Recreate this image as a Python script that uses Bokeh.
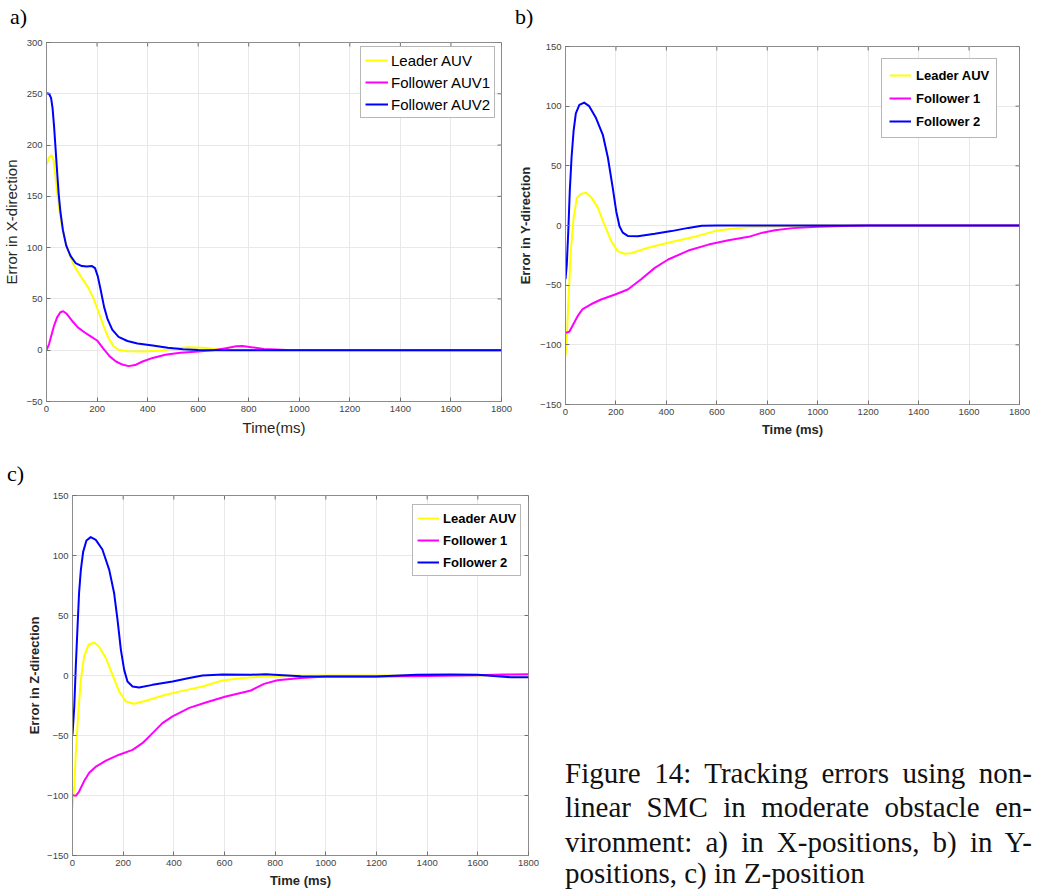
from bokeh.plotting import figure
from bokeh.layouts import row, column
from bokeh.models import Range1d, SingleIntervalTicker, Legend, LegendItem, Div
from bokeh.embed import file_html
from bokeh.resources import INLINE

# ---------------- data ----------------
# a) X-direction
a_leader_t = [0, 10, 20, 28, 36, 44, 52, 62, 75, 90, 110, 138, 165, 185, 205, 225, 245, 265, 285, 320, 380, 450, 510, 560, 620, 680, 760, 900, 1800]
a_leader_v = [181, 188, 190, 185, 168, 150, 135, 120, 106, 94, 82, 71, 61, 51, 38, 24, 12, 4, 0.5, -1, -1.2, -0.5, 1.8, 3, 2.5, 1, 0.3, 0, 0]
a_f1_t = [0, 10, 20, 30, 42, 55, 66, 80, 100, 125, 150, 175, 200, 225, 250, 275, 300, 325, 350, 380, 420, 470, 530, 600, 660, 710, 750, 775, 810, 860, 950, 1800]
a_f1_v = [0, 6, 15, 24, 32, 37, 38, 35.5, 29, 22, 17.5, 13.5, 9.5, 1.5, -6, -11, -14, -15.5, -14.5, -11, -7.5, -4.5, -2.5, -1.2, 0, 2, 3.8, 4, 3, 1.2, 0.2, 0]
a_f2_t = [0, 10, 18, 24, 30, 36, 42, 48, 55, 65, 78, 95, 115, 140, 160, 180, 192, 203, 215, 228, 242, 260, 285, 320, 360, 420, 480, 540, 600, 700, 1800]
a_f2_v = [250.5, 250, 246, 236, 218, 196, 174, 153, 135, 117, 102, 92, 85, 82, 81.5, 82, 80, 72, 58, 42, 30, 20, 13, 9, 6.5, 4.5, 2.5, 1, 0.3, 0, 0]

# b) Y-direction
b_leader_t = [0, 4, 11, 21, 32, 45, 61, 81, 101, 128, 154, 181, 207, 234, 260, 327, 407, 513, 593, 650, 720, 800, 900, 1000, 1800]
b_leader_v = [-109, -100, -66, -21.5, 6, 23, 26.5, 27.4, 24, 15, 1, -13, -21.5, -23.7, -23.2, -18.7, -14.5, -9.5, -4.7, -3, -1.5, -1, -0.5, 0, 0]
b_f1_t = [0, 15, 28, 48, 68, 101, 141, 194, 247, 300, 354, 407, 487, 567, 646, 726, 781, 830, 900, 1000, 1100, 1200, 1800]
b_f1_v = [-90, -89, -84, -76, -70, -66, -62, -58, -53.6, -45, -35.5, -28.5, -21, -16, -12.3, -9.5, -6, -4, -2.2, -1, -0.4, 0, 0]
b_f2_t = [0, 5, 11, 17, 24, 32, 41, 55, 74, 94, 121, 148, 168, 187, 201, 214, 227, 247, 287, 354, 420, 487, 540, 600, 1800]
b_f2_v = [-45, -33, -5, 29, 57, 79, 94, 101, 103, 100, 90, 76, 57, 32, 12, -0.6, -6, -8.7, -9, -7, -4.7, -2, -0.3, 0, 0]

# c) Z-direction
c_leader_t = [0, 7, 13, 22, 33, 46, 63, 86, 105, 132, 158, 184, 211, 243, 290, 368, 434, 513, 592, 671, 763, 850, 1000, 1800]
c_leader_v = [-110, -92.5, -65, -34, -3.6, 16, 25.6, 27.5, 24, 14.4, 0.6, -13.3, -21.7, -23.6, -21, -16, -12.8, -9.2, -4.2, -2, -0.8, -0.3, 0, 0]
c_f1_t = [0, 13, 26, 46, 66, 92, 132, 184, 237, 276, 316, 355, 395, 461, 526, 605, 684, 704, 756, 809, 901, 1000, 1200, 1400, 1598, 1700, 1800]
c_f1_v = [-99.7, -100.3, -96.7, -88, -81, -76, -71, -66, -62, -56.4, -48, -39.7, -34, -27, -22.5, -17.5, -13.5, -12.5, -7, -4, -2, -0.8, -0.8, -0.5, 0.3, 0.8, 1]
c_f2_t = [0, 7, 13, 20, 26, 33, 42, 55, 72, 92, 118, 145, 164, 178, 191, 204, 217, 237, 263, 316, 395, 461, 513, 592, 704, 763, 901, 1000, 1197, 1361, 1493, 1598, 1730, 1800]
c_f2_v = [-49.4, -26, 7.5, 41, 69, 88, 103, 112.5, 115.3, 113, 105, 88, 69, 46, 21.4, 4.7, -5, -9.2, -10, -7.8, -5, -2, 0, 0.8, 0.6, 1, -0.6, -0.8, -0.8, 0.6, 0.8, 0.6, -1.4, -1.5]

x_max = 1800
x_tick_step = 200
y_tick_step = 50

labels_a = ["Leader AUV", "Follower AUV1", "Follower AUV2"]
labels_bc = ["Leader AUV", "Follower 1", "Follower 2"]
colors = ["#ffff00", "#ff00ff", "#0000ff"]
panel_tags = ["a)", "b)", "c)"]

caption_lines = [
    "Figure 14: Tracking errors using non-",
    "linear SMC in moderate obstacle en-",
    "vironment: a) in X-positions, b) in Y-",
    "positions, c) in Z-position",
]

SANS = "Liberation Sans"
SERIF = "Liberation Serif"
TICK_COLOR = "#707070"
TICK_LEN = 4


def make_fig(width, height, left, right, top, bottom, ymin, ymax):
    p = figure(width=width, height=height, x_range=Range1d(0, x_max),
               y_range=Range1d(ymin, ymax), output_backend="svg",
               toolbar_location=None, min_border_left=left,
               min_border_right=right, min_border_top=top,
               min_border_bottom=bottom)
    p.background_fill_color = "white"
    p.border_fill_color = "white"
    p.outline_line_color = "#8c8c8c"
    p.outline_line_width = 1
    p.xaxis.ticker = SingleIntervalTicker(interval=x_tick_step, num_minor_ticks=0)
    p.yaxis.ticker = SingleIntervalTicker(interval=y_tick_step, num_minor_ticks=0)
    for ax in (p.xaxis[0], p.yaxis[0]):
        ax.major_tick_in = TICK_LEN
        ax.major_tick_out = 0
        ax.minor_tick_in = 0
        ax.minor_tick_out = 0
        ax.major_tick_line_color = TICK_COLOR
        ax.axis_line_color = "#8c8c8c"
        ax.major_label_text_font = SANS
        ax.major_label_text_font_size = "9.5px"
        ax.major_label_text_color = "#444444"
        ax.major_label_standoff = 4
        ax.axis_label_text_font = SANS
        ax.axis_label_text_color = "#262626"
    p.xgrid.grid_line_color = "#e8e8e8"
    p.ygrid.grid_line_color = "#e8e8e8"

    # mirrored inward ticks on the top and right edges (MATLAB box style)
    frame_w = width - left - right
    frame_h = height - top - bottom
    dx = TICK_LEN * x_max / frame_w
    dy = TICK_LEN * (ymax - ymin) / frame_h
    xt = list(range(0, x_max + 1, x_tick_step))
    yt = list(range(ymin, ymax + 1, y_tick_step))
    p.segment(x0=xt, y0=[ymax] * len(xt), x1=xt, y1=[ymax - dy] * len(xt),
              line_color=TICK_COLOR, line_width=1)
    p.segment(x0=[x_max] * len(yt), y0=yt, x1=[x_max - dx] * len(yt), y1=yt,
              line_color=TICK_COLOR, line_width=1)
    return p


def set_labels(p, xlabel, ylabel, size, style, y_standoff, x_standoff):
    xa, ya = p.xaxis[0], p.yaxis[0]
    xa.axis_label = xlabel
    ya.axis_label = ylabel
    for ax in (xa, ya):
        ax.axis_label_text_font_size = size
        ax.axis_label_text_font_style = style
    ya.axis_label_standoff = y_standoff
    xa.axis_label_standoff = x_standoff


def add_series(p, series, labels, loc, font_size, font_style, glyph_w,
               padding, spacing, standoff):
    items = []
    for (t, v), lab, col in zip(series, labels, colors):
        r = p.line(t, v, line_color=col, line_width=2, line_join="round")
        items.append(LegendItem(label=lab, renderers=[r]))
    lg = Legend(items=items, location=loc)
    lg.label_text_font = SANS
    lg.label_text_font_size = font_size
    lg.label_text_font_style = font_style
    lg.label_text_color = "#000000"
    lg.glyph_width = glyph_w
    lg.glyph_height = 18
    lg.label_height = 18
    lg.label_standoff = standoff
    lg.spacing = spacing
    lg.padding = padding
    lg.margin = 0
    lg.border_line_color = "#707070"
    lg.border_line_width = 1
    lg.background_fill_color = "white"
    lg.background_fill_alpha = 1
    p.add_layout(lg)


def tag_div(text, width, height, pad_top, pad_left):
    html = ('<div style="padding-top:%dpx;padding-left:%dpx;'
            "font-family:'Liberation Serif',serif;font-size:22px;"
            'line-height:24px;color:#000;">%s</div>' % (pad_top, pad_left, text))
    return Div(text=html, width=width, height=height, margin=0)


# ---------------- a) ----------------
fa = make_fig(513, 415, 45, 12, 12, 44, -50, 300)
set_labels(fa, "Time(ms)", "Error in X-direction", "15px", "normal", 3, 4)
add_series(fa, [(a_leader_t, a_leader_v), (a_f1_t, a_f1_v), (a_f2_t, a_f2_v)],
           labels_a, (314, 283), "15px", "normal", 23, 4, 4, 3)
ta = tag_div(panel_tags[0], 513, 30, 5, 10)

# ---------------- b) ----------------
fb = make_fig(525, 415, 52, 19, 16, 41, -150, 150)
set_labels(fb, "Time (ms)", "Error in Y-direction", "13px", "bold", 4, 4)
add_series(fb, [(b_leader_t, b_leader_v), (b_f1_t, b_f1_v), (b_f2_t, b_f2_v)],
           labels_bc, (316, 266), "13px", "bold", 22, 7, 5, 5)
tb = tag_div(panel_tags[1], 525, 30, 5, 2)

# ---------------- c) ----------------
fc = make_fig(548, 401, 72, 20, 6, 35, -150, 150)
set_labels(fc, "Time (ms)", "Error in Z-direction", "13px", "bold", 2, 4)
add_series(fc, [(c_leader_t, c_leader_v), (c_f1_t, c_f1_v), (c_f2_t, c_f2_v)],
           labels_bc, (340, 279), "13px", "bold", 22, 4, 4, 4)
tc = tag_div(panel_tags[2], 548, 44, 17, 7)

# ---------------- caption ----------------
base = ("font-family:'Liberation Serif',serif;font-size:29px;color:#111;"
        "width:467px;")
parts = []
for i, ln in enumerate(caption_lines):
    if i < len(caption_lines) - 1:
        parts.append('<div style="%sline-height:34.4px;text-align:justify;'
                     'text-align-last:justify;">%s</div>' % (base, ln))
    else:
        parts.append('<div style="%sline-height:28px;text-align:left;'
                     'white-space:nowrap;">%s</div>' % (base, ln))
cap = Div(text="".join(parts), width=467, height=132, margin=(311, 0, 0, 17))

layout = column(row(column(ta, fa), column(tb, fb)),
                row(column(tc, fc), cap))

open("out.html", "w").write(file_html(layout, INLINE))
